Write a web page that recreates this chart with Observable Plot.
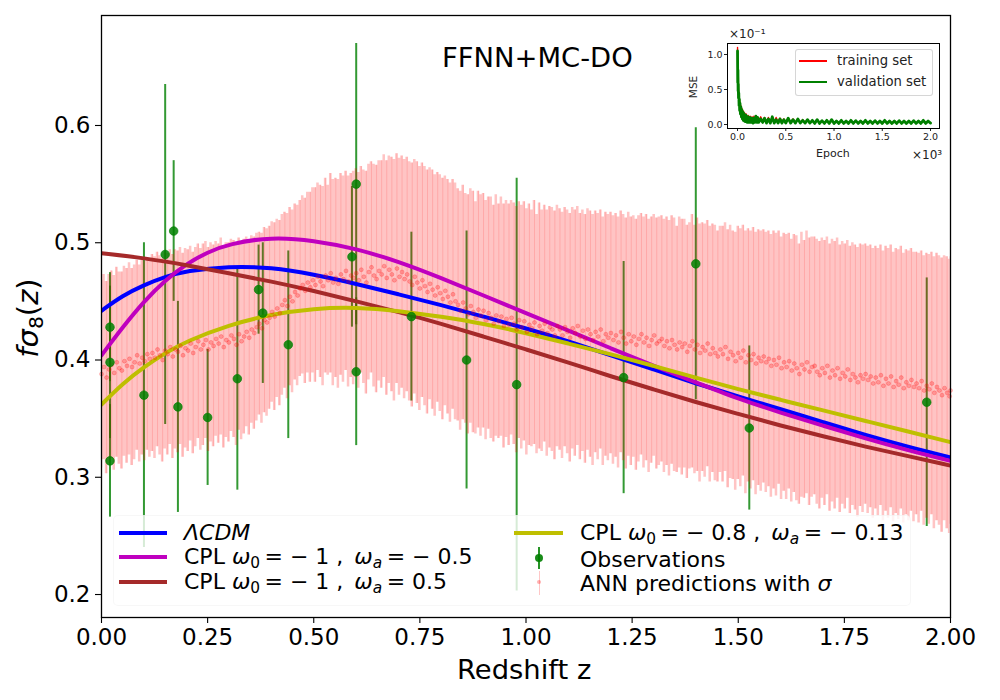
<!DOCTYPE html>
<html>
<head>
<meta charset="utf-8">
<script src="https://cdn.jsdelivr.net/npm/d3@7"></script>
<script src="https://cdn.jsdelivr.net/npm/@observablehq/plot@0.6"></script>
<style>
  html, body { margin: 0; padding: 0; background: white; }
  #chart { position: relative; width: 1000px; height: 700px; overflow: hidden; font-family: "DejaVu Sans", sans-serif; color: black; }
  #chart svg { position: absolute; left: 0; top: 0; }
  .lbl { position: absolute; white-space: nowrap; line-height: 1; }
  .lbl sub { font-size: 70%; vertical-align: -0.28em; line-height: 0; }
  .box { position: absolute; box-sizing: border-box; }
  .swatch { position: absolute; }
</style>
</head>
<body>
<div id="chart"></div>
<script>
// Observations: redshift, f sigma 8, error
var obsZ = [0.02, 0.02, 0.02, 0.10, 0.15, 0.17, 0.18, 0.25, 0.32, 0.37, 0.38, 0.44, 0.59, 0.60, 0.60, 0.73, 0.86, 0.978, 1.23, 1.40, 1.526, 1.944];
var obsF = [0.428, 0.398, 0.314, 0.37, 0.49, 0.51, 0.36, 0.351, 0.384, 0.46, 0.44, 0.413, 0.488, 0.39, 0.55, 0.437, 0.40, 0.379, 0.385, 0.482, 0.342, 0.364];
var obsErr = [0.0465, 0.065, 0.048, 0.13, 0.145, 0.06, 0.09, 0.058, 0.095, 0.038, 0.06, 0.08, 0.06, 0.063, 0.12, 0.072, 0.11, 0.176, 0.099, 0.116, 0.07, 0.106];

// ANN predictions
var predZ = [
0,.006,.012,.018,.024,.03,.036,.042,.048,.054,.06,.066,.072,.078,.084,.09,.096,.102,.108,.114,
.12,.126,.132,.138,.144,.15,.156,.162,.168,.174,.18,.186,.192,.198,.204,.21,.216,.222,.228,.234,
.24,.246,.252,.258,.264,.27,.276,.282,.288,.294,.3,.306,.312,.318,.324,.33,.336,.342,.348,.354,
.36,.366,.372,.378,.384,.39,.396,.402,.408,.414,.42,.426,.432,.438,.444,.45,.456,.462,.468,.474,
.48,.486,.492,.498,.504,.51,.516,.522,.528,.534,.54,.546,.552,.558,.564,.57,.576,.582,.588,.594,
.6,.606,.612,.618,.624,.63,.636,.642,.648,.654,.66,.666,.672,.678,.684,.69,.696,.702,.708,.714,
.72,.726,.732,.738,.744,.75,.756,.762,.768,.774,.78,.786,.792,.798,.804,.81,.816,.822,.828,.834,
.84,.846,.852,.858,.864,.87,.876,.882,.888,.894,.9,.906,.912,.918,.924,.93,.936,.942,.948,.954,
.96,.966,.972,.978,.984,.99,.996,1.002,1.008,1.014,1.02,1.026,1.032,1.038,1.044,1.05,1.056,1.062,1.068,1.074,
1.08,1.086,1.092,1.098,1.104,1.11,1.116,1.122,1.128,1.134,1.14,1.146,1.152,1.158,1.164,1.17,1.176,1.182,1.188,1.194,
1.2,1.206,1.212,1.218,1.224,1.23,1.236,1.242,1.248,1.254,1.26,1.266,1.272,1.278,1.284,1.29,1.296,1.302,1.308,1.314,
1.32,1.326,1.332,1.338,1.344,1.35,1.356,1.362,1.368,1.374,1.38,1.386,1.392,1.398,1.404,1.41,1.416,1.422,1.428,1.434,
1.44,1.446,1.452,1.458,1.464,1.47,1.476,1.482,1.488,1.494,1.5,1.506,1.512,1.518,1.524,1.53,1.536,1.542,1.548,1.554,
1.56,1.566,1.572,1.578,1.584,1.59,1.596,1.602,1.608,1.614,1.62,1.626,1.632,1.638,1.644,1.65,1.656,1.662,1.668,1.674,
1.68,1.686,1.692,1.698,1.704,1.71,1.716,1.722,1.728,1.734,1.74,1.746,1.752,1.758,1.764,1.77,1.776,1.782,1.788,1.794,
1.8,1.806,1.812,1.818,1.824,1.83,1.836,1.842,1.848,1.854,1.86,1.866,1.872,1.878,1.884,1.89,1.896,1.902,1.908,1.914,
1.92,1.926,1.932,1.938,1.944,1.95,1.956,1.962,1.968,1.974,1.98,1.986,1.992,1.998,2
];
var predMean = [
.388,.394,.385,.392,.396,.389,.398,.393,.391,.399,.395,.401,.394,.398,.404,.397,.402,.399,.405,.401,
.406,.402,.409,.404,.400,.408,.405,.411,.403,.409,.407,.412,.404,.410,.408,.414,.406,.411,.416,.409,
.413,.417,.409,.415,.412,.418,.414,.420,.411,.417,.415,.421,.418,.413,.422,.416,.420,.424,.419,.426,
.423,.428,.431,.427,.434,.432,.436,.441,.437,.444,.440,.447,.451,.446,.454,.450,.458,.455,.461,.464,
.459,.466,.462,.468,.464,.471,.467,.463,.472,.468,.474,.466,.470,.465,.473,.469,.476,.467,.472,.470,
.474,.468,.477,.471,.466,.475,.479,.472,.469,.476,.473,.480,.470,.477,.473,.468,.478,.471,.475,.469,
.473,.467,.464,.471,.466,.461,.468,.463,.458,.465,.460,.455,.462,.457,.452,.459,.454,.449,.456,.450,
.447,.442,.449,.444,.439,.446,.441,.436,.443,.438,.442,.434,.440,.436,.431,.438,.433,.437,.429,.435,
.430,.436,.431,.426,.434,.428,.433,.424,.430,.427,.432,.422,.429,.425,.431,.423,.428,.426,.421,.429,
.426,.421,.428,.424,.419,.427,.423,.429,.420,.425,.418,.426,.422,.417,.424,.420,.426,.416,.422,.419,
.423,.417,.421,.415,.424,.419,.414,.422,.416,.420,.413,.418,.422,.415,.419,.412,.417,.421,.414,.416,
.418,.412,.416,.410,.417,.413,.409,.415,.411,.414,.407,.412,.416,.409,.413,.406,.411,.408,.414,.405,
.410,.406,.403,.409,.405,.411,.401,.407,.404,.399,.406,.402,.408,.398,.404,.400,.405,.397,.402,.399,
.403,.398,.401,.395,.400,.396,.402,.393,.398,.394,.399,.391,.397,.393,.388,.396,.392,.398,.390,.394,
.395,.390,.387,.393,.389,.395,.385,.391,.387,.393,.384,.389,.386,.392,.383,.388,.385,.381,.387,.384,
.388,.383,.386,.380,.385,.381,.387,.378,.384,.380,.386,.377,.382,.379,.385,.376,.381,.378,.383,.377,
.380,.376,.382,.374,.378,.375,.380,.372,.377,.374,.370,.376,.372,.369,.374
];
var predSigma = [
.080,.079,.082,.081,.080,.083,.081,.082,.084,.081,.083,.082,.084,.083,.081,.084,.083,.085,.082,.084,
.084,.086,.083,.085,.087,.084,.086,.083,.087,.085,.086,.084,.087,.085,.086,.083,.086,.085,.083,.086,
.086,.084,.087,.085,.086,.083,.085,.084,.086,.083,.085,.082,.084,.086,.082,.084,.083,.081,.083,.080,
.082,.080,.078,.081,.079,.080,.078,.077,.080,.076,.079,.077,.075,.079,.076,.078,.075,.077,.075,.076,
.079,.077,.081,.079,.083,.080,.082,.085,.083,.081,.085,.088,.085,.089,.086,.088,.085,.090,.087,.091,
.089,.092,.088,.091,.095,.092,.090,.095,.097,.094,.097,.095,.100,.097,.100,.103,.098,.101,.099,.102,
.100,.102,.104,.100,.103,.104,.100,.102,.104,.099,.102,.103,.098,.101,.103,.098,.100,.102,.098,.101,
.099,.102,.100,.098,.102,.100,.103,.099,.101,.103,.100,.102,.099,.103,.101,.103,.100,.102,.104,.101,
.103,.100,.103,.105,.101,.104,.102,.105,.103,.101,.104,.102,.105,.103,.101,.105,.103,.104,.106,.103,
.103,.105,.102,.104,.106,.103,.105,.102,.105,.103,.106,.103,.105,.107,.103,.105,.102,.106,.104,.105,
.103,.106,.104,.107,.103,.105,.107,.104,.106,.103,.107,.105,.103,.107,.105,.108,.105,.103,.107,.106,
.105,.108,.106,.109,.106,.108,.105,.107,.109,.106,.108,.105,.108,.106,.108,.110,.106,.108,.105,.109,
.106,.109,.107,.105,.109,.106,.110,.108,.106,.110,.108,.110,.107,.112,.108,.110,.108,.112,.109,.111,
.108,.111,.109,.112,.110,.112,.108,.112,.110,.113,.109,.112,.110,.113,.111,.113,.110,.112,.114,.111,
.110,.113,.114,.111,.113,.110,.114,.112,.114,.111,.114,.112,.113,.110,.114,.112,.113,.115,.112,.114,
.111,.114,.112,.115,.112,.114,.111,.115,.113,.115,.112,.115,.113,.115,.112,.115,.113,.115,.112,.115,
.112,.115,.111,.115,.113,.115,.112,.116,.114,.115,.117,.113,.116,.117,.114
];

// Model curves
var lcdmZ = [0, .05, .1, .15, .2, .3, .4, .5, .6, .7, .8, .9, 1, 1.1, 1.2, 1.3, 1.4, 1.5, 1.6, 1.7, 1.8, 1.9, 2];
var lcdmF = [.442, .455, .464, .471, .476, .480, .479, .473, .465, .456, .447, .437, .427, .416, .404, .392, .380, .369, .358, .347, .336, .326, .317];
var cplMinusZ = [0, .05, .1, .15, .2, .25, .3, .4, .5, .6, .7, .8, .9, 1, 1.1, 1.2, 1.3, 1.4, 1.5, 1.6, 1.7, 1.8, 1.9, 2];
var cplMinusF = [.404, .428, .450, .468, .482, .492, .499, .505, .502, .495, .484, .470, .455, .440, .425, .410, .395, .381, .367, .355, .344, .333, .323, .314];
var cplPlusZ = [0, .1, .2, .3, .4, .5, .6, .7, .8, .9, 1, 1.1, 1.2, 1.3, 1.4, 1.5, 1.6, 1.7, 1.8, 1.9, 2];
var cplPlusF = [.491, .487, .481, .474, .467, .459, .450, .441, .431, .420, .409, .398, .386, .375, .364, .354, .344, .335, .326, .318, .310];
var cplBestZ = [0, .05, .1, .15, .2, .3, .4, .5, .6, .7, .8, .9, 1, 1.1, 1.2, 1.3, 1.4, 1.5, 1.6, 1.7, 1.8, 1.9, 2];
var cplBestF = [.362, .380, .394, .406, .416, .430, .439, .444, .445, .442, .437, .431, .423, .414, .405, .395, .385, .375, .366, .357, .348, .339, .330];

var xTicks = [0, .25, .5, .75, 1, 1.25, 1.5, 1.75, 2];
var yTicks = [.2, .3, .4, .5, .6];

// Inset: training history, epochs in units of 10^3, MSE in units of 10^-1
var lossEpoch = [
0,.002,.004,.006,.008,.01,.013,.016,.019,.022,.026,.03,.035,.04,.045,.05,.055,.06,.065,.07,
.075,.08,.09,.1,.11,.12,.13,.14,.15,.16,.17,.18,.19,.2,.21,.22,.24,.26,.28,.3,
.32,.34,.36,.38,.4,.42,.44,.46,.48,.5,.525,.55,.575,.6,.625,.65,.675,.7,.725,.75,
.775,.8,.825,.85,.875,.9,.925,.95,.975,1,1.025,1.05,1.075,1.1,1.125,1.15,1.175,1.2,1.225,1.25,
1.275,1.3,1.325,1.35,1.375,1.4,1.425,1.45,1.475,1.5,1.525,1.55,1.575,1.6,1.625,1.65,1.675,1.7,1.725,1.75,
1.775,1.8,1.825,1.85,1.875,1.9,1.925,1.95,1.975,2
];
var lossTrain = [
1.10,.70,.85,.55,.70,.42,.48,.30,.38,.22,.32,.17,.27,.13,.23,.09,.20,.07,.18,.06,
.16,.05,.15,.05,.13,.05,.12,.05,.11,.05,.12,.05,.11,.05,.10,.05,.11,.05,.10,.04,
.10,.04,.11,.04,.10,.04,.09,.04,.08,.03,.08,.03,.08,.03,.07,.03,.07,.03,.06,.02,
.06,.02,.06,.02,.05,.02,.06,.02,.05,.02,.05,.02,.05,.02,.05,.02,.05,.02,.05,.02,
.05,.02,.05,.02,.05,.02,.05,.02,.05,.02,.05,.02,.05,.02,.05,.02,.05,.02,.05,.02,
.05,.02,.05,.02,.05,.02,.05,.02,.05,.02
];
var lossVal = [
1.05,.60,.78,.48,.58,.38,.45,.27,.36,.20,.30,.15,.25,.11,.21,.08,.18,.06,.16,.05,
.14,.04,.13,.03,.11,.03,.10,.03,.09,.02,.09,.03,.12,.03,.10,.03,.08,.03,.09,.02,
.08,.02,.11,.02,.07,.02,.08,.02,.07,.02,.09,.02,.07,.02,.08,.02,.06,.02,.07,.02,
.06,.015,.07,.015,.055,.015,.06,.015,.07,.015,.05,.015,.06,.015,.05,.015,.06,.015,.055,.015,
.05,.015,.06,.015,.05,.015,.055,.015,.05,.015,.06,.015,.05,.015,.05,.015,.055,.015,.05,.015,
.05,.015,.055,.015,.05,.015,.06,.015,.05,.02
];
var lossTicksX = [0, .5, 1, 1.5, 2];
var lossTicksY = [0, .5, 1];

var colorLcdm = "#0000ff";
var colorCplMinus = "#bf00bf";
var colorCplPlus = "#a52a2a";
var colorCplBest = "#bfbf00";
var fontFamily = '"DejaVu Sans", sans-serif';

function zipXY(xs, ys) {
    return xs.map(function(x, i) { return {x: x, y: ys[i]}; });
}

function curveMark(xs, ys, color) {
    return Plot.line(zipXY(xs, ys), {x: "x", y: "y", stroke: color, strokeWidth: 4, curve: "basis", clip: true});
}

var obsData = obsZ.map(function(z, i) {
    return {z: z, f: obsF[i], lo: obsF[i] - obsErr[i], hi: obsF[i] + obsErr[i]};
});
var predData = predZ.map(function(z, i) {
    return {z: z, mean: predMean[i], lo: predMean[i] - predSigma[i], hi: predMean[i] + predSigma[i]};
});

var chart = document.getElementById("chart");

// Main axes. Draw order: error bars, model lines, markers.
var mainPlot = Plot.plot({
    width: 1000,
    height: 700,
    marginLeft: 101,
    marginRight: 50,
    marginTop: 15,
    marginBottom: 83,
    x: {domain: [0, 2]},
    y: {domain: [0.1804, 0.6938]},
    style: {fontFamily: fontFamily, background: "white", color: "black"},
    marks: [
        Plot.ruleX(obsData, {x: "z", y1: "lo", y2: "hi", stroke: "green", strokeOpacity: 0.8, strokeWidth: 2}),
        Plot.areaY(predData, {x: "z", y1: "lo", y2: "hi", curve: "step", fill: "red", fillOpacity: 0.23}),
        Plot.ruleX(predData.filter(function(d, i) { return i % 2 === 0; }), {x: "z", y1: "lo", y2: "hi", stroke: "red", strokeOpacity: 0.14, strokeWidth: 1}),
        curveMark(lcdmZ, lcdmF, colorLcdm),
        curveMark(cplMinusZ, cplMinusF, colorCplMinus),
        curveMark(cplPlusZ, cplPlusF, colorCplPlus),
        curveMark(cplBestZ, cplBestF, colorCplBest),
        Plot.dot(predData, {x: "z", y: "mean", r: 2, fill: "red", fillOpacity: 0.24, stroke: "red", strokeOpacity: 0.26, strokeWidth: 0.8}),
        Plot.dot(obsData, {x: "z", y: "f", r: 4.3, fill: "green", fillOpacity: 0.85, stroke: "green", strokeOpacity: 0.85, strokeWidth: 0.8}),
        Plot.axisX({ticks: xTicks, tickFormat: d3.format(".2f"), label: null, fontSize: 23, tickSize: 6, tickPadding: 5, strokeWidth: 1.1}),
        Plot.axisY({ticks: yTicks, tickFormat: d3.format(".1f"), label: null, fontSize: 23, tickSize: 6, tickPadding: 5, strokeWidth: 1.1}),
        Plot.frame({stroke: "black", strokeWidth: 1.3})
    ]
});
chart.appendChild(mainPlot);

// Inset axes
var insetPlot = Plot.plot({
    width: 260,
    height: 140,
    marginLeft: 27,
    marginRight: 21,
    marginTop: 13,
    marginBottom: 42,
    x: {domain: [-0.104, 2.093]},
    y: {domain: [-0.057, 1.157]},
    style: {fontFamily: fontFamily, background: "transparent", color: "#222"},
    marks: [
        Plot.line(zipXY(lossEpoch, lossTrain), {x: "x", y: "y", stroke: "red", strokeWidth: 1.4}),
        Plot.line(zipXY(lossEpoch, lossVal), {x: "x", y: "y", stroke: "green", strokeWidth: 2.8}),
        Plot.axisX({ticks: lossTicksX, tickFormat: d3.format(".1f"), label: null, fontSize: 9.5, tickSize: 3, tickPadding: 2}),
        Plot.axisY({ticks: lossTicksY, tickFormat: d3.format(".1f"), label: null, fontSize: 9.5, tickSize: 3, tickPadding: 2}),
        Plot.frame({stroke: "black", strokeWidth: 1})
    ]
});
insetPlot.style.left = "700px";
insetPlot.style.top = "30px";
chart.appendChild(insetPlot);

// Text and legends sit on top of the svg
function addLabel(html, left, top, size, extra) {
    var el = document.createElement("div");
    el.className = "lbl";
    el.innerHTML = html;
    el.style.left = left + "px";
    el.style.top = top + "px";
    el.style.fontSize = size + "px";
    if (extra) el.style.cssText += extra;
    chart.appendChild(el);
    return el;
}

function addBox(left, top, width, height, css) {
    var el = document.createElement("div");
    el.className = "box";
    el.style.cssText += "left:" + left + "px;top:" + top + "px;width:" + width + "px;height:" + height + "px;" + css;
    chart.appendChild(el);
    return el;
}

function addHandle(left, midY, width, color, thick) {
    addBox(left, midY - thick / 2, width, thick, "background:" + color + ";");
}

addLabel("FFNN+MC-DO", 442, 44, 27.4);
addLabel("Redshift z", 457, 656, 27.4);
addLabel('<i>f</i><i>σ</i><sub>8</sub>(<i>z</i>)', 28, 318, 29, "transform:translate(-50%,-50%) rotate(-90deg);");

// Main legend
addBox(113, 515, 798, 91, "background:rgba(255,255,255,0.8);border:1px solid rgba(204,204,204,0.15);border-radius:5px;");
var legendLeftRows = [
    {color: colorLcdm, y: 533, text: "<i>ΛCDM</i>"},
    {color: colorCplMinus, y: 557, text: "CPL <i>ω</i><sub>0</sub>&thinsp;= − 1 ,&ensp;<i>ω</i><sub><i>a</i></sub>&thinsp;= − 0.5"},
    {color: colorCplPlus, y: 582, text: "CPL <i>ω</i><sub>0</sub>&thinsp;= − 1 ,&ensp;<i>ω</i><sub><i>a</i></sub>&thinsp;= 0.5"}
];
legendLeftRows.forEach(function(row) {
    addHandle(119, row.y, 48, row.color, 4);
    addLabel(row.text, 184, row.y - 11, 22);
});
addHandle(514, 533, 49, colorCplBest, 4);
addLabel("CPL <i>ω</i><sub>0</sub>&thinsp;= − 0.8 ,&ensp;<i>ω</i><sub><i>a</i></sub>&thinsp;= − 0.13", 580, 522, 22);
addBox(538, 547, 2, 22, "background:green;opacity:0.85;");
addBox(535, 554, 8, 8, "background:green;opacity:0.9;border-radius:50%;");
addLabel("Observations", 580, 549, 22);
addBox(539, 571, 1, 24, "background:rgba(255,0,0,0.22);");
addBox(537, 580, 4, 4, "background:rgba(255,0,0,0.3);border-radius:50%;");
addLabel("ANN predictions with <i>σ</i>", 580, 573, 22);

// Inset labels and legend
addLabel("Epoch", 816, 148, 11, "color:#222;");
addLabel("MSE", 693, 87, 10.5, "color:#222;transform:translate(-50%,-50%) rotate(-90deg);");
addLabel("×10⁻¹", 729, 28, 12, "color:#222;");
addLabel("×10³", 912, 149, 12, "color:#222;");
addBox(795, 49, 138, 47, "background:rgba(255,255,255,0.8);border:1px solid rgba(204,204,204,0.8);border-radius:3px;");
addHandle(799, 61, 28, "red", 1.5);
addHandle(799, 82, 28, "green", 1.5);
addLabel("training set", 837, 54, 13.2, "color:#222;");
addLabel("validation set", 837, 75, 13.2, "color:#222;");
</script>
</body>
</html>
